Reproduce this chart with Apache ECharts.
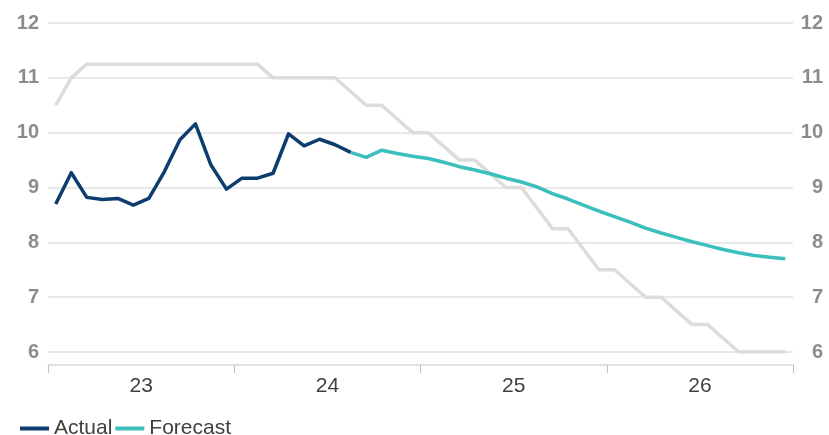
<!DOCTYPE html>
<html>
<head>
<meta charset="utf-8">
<script src="https://cdn.jsdelivr.net/npm/echarts@6/dist/echarts.min.js"></script>
<style>
  html, body { margin: 0; padding: 0; background: #ffffff; }
  #chart { width: 829px; height: 435px; }
</style>
</head>
<body>
<div id="chart"></div>
<script>
// Monthly categories Jan 2023 – Dec 2026
const months = [];
for (const y of [2023, 2024, 2025, 2026]) {
  for (let m = 1; m <= 12; m++) months.push(y + '-' + String(m).padStart(2, '0'));
}
const yearLabels = ['23', '24', '25', '26'];

// Actual: Jan 2023 – Aug 2024
const actual = [8.70, 9.27, 8.82, 8.78, 8.80, 8.68, 8.80, 9.29, 9.87, 10.16, 9.41, 8.97,
                9.17, 9.17, 9.26, 9.98, 9.76, 9.88, 9.78, 9.64];

// Forecast: Aug 2024 – Dec 2026
const forecast = [9.64, 9.55, 9.68, 9.62, 9.57,
                  9.53, 9.46, 9.38, 9.32, 9.25, 9.17, 9.10, 9.01, 8.89, 8.79, 8.68, 8.57,
                  8.47, 8.37, 8.26, 8.17, 8.09, 8.01, 7.94, 7.87, 7.81, 7.76, 7.73, 7.70];

// Grey reference (policy rate) Jan 2023 – Dec 2026
const policy = [10.5, 11.0, 11.25, 11.25, 11.25, 11.25, 11.25, 11.25, 11.25, 11.25, 11.25, 11.25,
                11.25, 11.25, 11.0, 11.0, 11.0, 11.0, 11.0, 10.75, 10.5, 10.5, 10.25, 10.0,
                10.0, 9.75, 9.5, 9.5, 9.25, 9.0, 9.0, 8.625, 8.25, 8.25, 7.875, 7.5,
                7.5, 7.25, 7.0, 7.0, 6.75, 6.5, 6.5, 6.25, 6.0, 6.0, 6.0, 6.0];

const yMin = 6, yMax = 12, yStep = 1;

const actualData = months.map((m, i) => i < actual.length ? actual[i] : null);
const fcStart = actual.length - 1;
const forecastData = months.map((m, i) => (i >= fcStart && i - fcStart < forecast.length) ? forecast[i - fcStart] : null);

const FONT = '"Liberation Sans", Arial, sans-serif';
const chart = echarts.init(document.getElementById('chart'), null, { renderer: 'canvas' });

chart.setOption({
  animation: false,
  backgroundColor: '#ffffff',
  grid: { left: 48, right: 36, top: 23, bottom: 83, containLabel: false },
  legend: {
    left: 15, top: 413,
    itemWidth: 29, itemHeight: 4, itemGap: 3,
    icon: 'rect',
    textStyle: { fontFamily: FONT, fontSize: 21, color: '#404040' },
    data: ['Actual', 'Forecast']
  },
  xAxis: [
    {
      type: 'category', data: months, boundaryGap: true, show: false
    },
    {
      type: 'category', data: yearLabels, boundaryGap: true, position: 'bottom', offset: 13,
      axisLine: { show: true, lineStyle: { color: '#d9d9d9', width: 1.5 } },
      axisTick: { show: true, length: 8, inside: false, lineStyle: { color: '#bfbfbf', width: 1 } },
      axisLabel: { fontFamily: FONT, fontSize: 21, color: '#404040', margin: 11 },
      splitLine: { show: false }
    }
  ],
  yAxis: [
    {
      type: 'value', min: yMin, max: yMax, interval: yStep, position: 'left',
      axisLine: { show: false }, axisTick: { show: false },
      axisLabel: { fontFamily: FONT, fontSize: 20, fontWeight: 'bold', color: '#8c8c8c', margin: 9 },
      splitLine: { show: true, lineStyle: { color: '#e2e2e2', width: 1.5 } }
    },
    {
      type: 'value', min: yMin, max: yMax, interval: yStep, position: 'right',
      axisLine: { show: false }, axisTick: { show: false },
      axisLabel: { fontFamily: FONT, fontSize: 20, fontWeight: 'bold', color: '#8c8c8c', margin: 30, align: 'right' },
      splitLine: { show: false }
    }
  ],
  series: [
    {
      name: 'Policy', type: 'line', xAxisIndex: 0, yAxisIndex: 0, data: policy,
      showSymbol: false, symbol: 'none',
      lineStyle: { color: '#dcdcdc', width: 3.5, join: 'round' }, itemStyle: { color: '#dcdcdc' },
      z: 1
    },
    {
      name: 'Forecast', type: 'line', xAxisIndex: 0, yAxisIndex: 0, data: forecastData,
      showSymbol: false, symbol: 'none',
      lineStyle: { color: '#3bbfbc', width: 3.5, join: 'round' }, itemStyle: { color: '#3bbfbc' },
      z: 2
    },
    {
      name: 'Actual', type: 'line', xAxisIndex: 0, yAxisIndex: 0, data: actualData,
      showSymbol: false, symbol: 'none',
      lineStyle: { color: '#0d3c6e', width: 3.5, join: 'round' }, itemStyle: { color: '#0d3c6e' },
      z: 3
    }
  ]
});
</script>
</body>
</html>
